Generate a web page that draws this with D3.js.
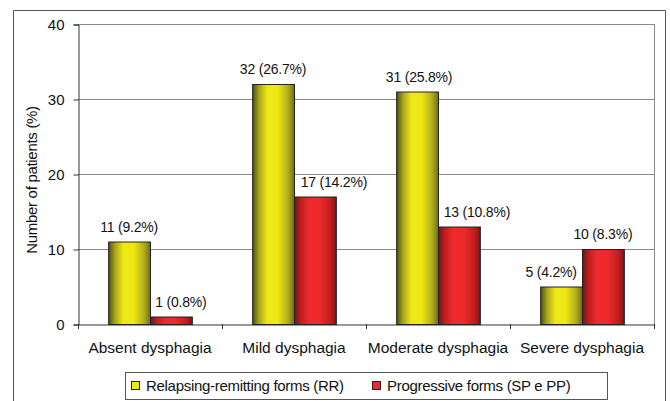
<!DOCTYPE html>
<html><head><meta charset="utf-8">
<script src="https://cdn.jsdelivr.net/npm/d3@7"></script>
<style>
html,body{margin:0;padding:0;background:#fff;}
svg text{font-family:"Liberation Sans",Arial,sans-serif;fill:#111;}
</style></head>
<body>
<svg id="chart" width="670" height="401"></svg>
<script>
const categories = ["Absent dysphagia","Mild dysphagia","Moderate dysphagia","Severe dysphagia"];
const seriesNames = ["Relapsing-remitting forms (RR)","Progressive forms (SP e PP)"];
const rrValues = [11, 32, 31, 5];
const rrLabels = ["11 (9.2%)","32 (26.7%)","31 (25.8%)","5 (4.2%)"];
const ppValues = [1, 17, 13, 10];
const ppLabels = ["1 (0.8%)","17 (14.2%)","13 (10.8%)","10 (8.3%)"];
const yTicks = [0, 10, 20, 30, 40];
const yTitle = "Number of patients (%)";

const svg = d3.select("#chart");
const m = {l:78, r:16, t:24, b:77};
const W = 670, H = 401;
const x0 = d3.scaleBand().domain(categories).range([m.l, W-m.r]).paddingInner(0).paddingOuter(0);
const x1 = d3.scaleBand().domain([0,1]).range([0, x0.bandwidth()]).paddingOuter(0.72).paddingInner(0);
const y = d3.scaleLinear().domain([0,40]).range([H-m.b, m.t]);

// gradients
const defs = svg.append("defs");
function grad(id, stops){
  const g = defs.append("linearGradient").attr("id", id).attr("x1","0").attr("x2","1").attr("y1","0").attr("y2","0");
  stops.forEach(s => g.append("stop").attr("offset", s[0]).attr("stop-color", s[1]));
}
grad("gy", [[0,"#4e4e18"],[0.15,"#a8a41a"],[0.35,"#eee814"],[0.6,"#eee814"],[0.85,"#b0ac1c"],[1,"#6e6c18"]]);
grad("gr", [[0,"#6e1414"],[0.15,"#c01e1e"],[0.35,"#ee2a2c"],[0.6,"#ee2a2c"],[0.85,"#c41e20"],[1,"#7a1616"]]);

// outer frame
svg.append("path").attr("d", `M13.5,${H+2} V10.5 H665.5 V${H+2}`).attr("fill","none").attr("stroke","#555").attr("stroke-width",1);

// gridlines
svg.append("g").selectAll("line").data(yTicks.filter(d=>d>0)).join("line")
  .attr("x1", m.l).attr("x2", W-m.r).attr("y1", d=>Math.round(y(d))+0.5).attr("y2", d=>Math.round(y(d))+0.5)
  .attr("stroke","#8a8a8a").attr("stroke-width",1);
// right border
svg.append("line").attr("x1", W-m.r+0.5).attr("x2", W-m.r+0.5).attr("y1", y(40)).attr("y2", y(0))
  .attr("stroke","#8a8a8a");

// y axis
const yAxis = d3.axisLeft(y).tickValues(yTicks).tickSize(5).tickPadding(8);
const gy = svg.append("g").attr("transform", `translate(${m.l+0.5},0.5)`).call(yAxis);
gy.select(".domain").attr("stroke","#333");
gy.selectAll(".tick line").attr("stroke","#333");
gy.selectAll(".tick text").attr("font-size", 15).attr("fill","#111").attr("dx", -1);

// x axis
const xAxis = d3.axisBottom(x0).tickSize(0).tickPadding(17);
const gx = svg.append("g").attr("transform", `translate(0,${y(0)+0.5})`).call(xAxis);
gx.select(".domain").attr("stroke","#333");
gx.selectAll(".tick text").attr("font-size", 15.5).attr("fill","#111");
// boundary ticks
svg.append("g").selectAll("line").data(d3.range(categories.length+1)).join("line")
  .attr("x1", i => (i<categories.length ? x0(categories[i]) : x0(categories[i-1])+x0.bandwidth()) + 0.5)
  .attr("x2", i => (i<categories.length ? x0(categories[i]) : x0(categories[i-1])+x0.bandwidth()) + 0.5)
  .attr("y1", y(0)).attr("y2", y(0)+5).attr("stroke","#333");

// bars
const rows = categories.map((c,i)=>({c, vals:[
  {s:0, v:rrValues[i], lab:rrLabels[i]},
  {s:1, v:ppValues[i], lab:ppLabels[i]}]}));
const labelNudge = [[0,10],[0,19],[2,18],[-10,0]];
const g = svg.append("g").selectAll("g").data(rows).join("g")
  .attr("transform", d=>`translate(${x0(d.c)},0)`);
g.selectAll("rect").data(d=>d.vals).join("rect")
  .attr("x", d=>x1(d.s)+0.5).attr("width", x1.bandwidth())
  .attr("y", d=>y(d.v)+0.5).attr("height", d=>y(0)-y(d.v))
  .attr("fill", d=>d.s===0?"url(#gy)":"url(#gr)")
  .attr("stroke","#222").attr("stroke-width",1);
g.selectAll("text").data((d,i)=>d.vals.map(v=>({...v, ci:i}))).join("text")
  .attr("x", d=>x1(d.s)+x1.bandwidth()/2 + labelNudge[d.ci][d.s])
  .attr("y", d=>y(d.v)-10)
  .attr("text-anchor","middle").attr("font-size", 14).style("letter-spacing","-0.2px")
  .text(d=>d.lab);

// y title
svg.append("text").attr("transform", `translate(37,180) rotate(-90)`)
  .attr("text-anchor","middle").attr("font-size", 15).style("letter-spacing","-0.3px").text(yTitle);

// legend
const lg = svg.append("g");
lg.append("rect").attr("x",125.5).attr("y",372.5).attr("width",482).attr("height",27)
  .attr("fill","#fff").attr("stroke","#555");
const legX = [131, 372];
const items = lg.selectAll("g").data(seriesNames).join("g")
  .attr("transform",(d,i)=>`translate(${legX[i]},0)`);
items.append("rect").attr("x",0.5).attr("y",381.5).attr("width",8).attr("height",8)
  .attr("fill",(d,i)=>i===0?"#eee814":"#ee2a2c").attr("stroke","#222");
items.append("text").attr("x",15).attr("y",391).attr("font-size",15).style("letter-spacing","-0.3px").text(d=>d);
</script>
</body></html>
